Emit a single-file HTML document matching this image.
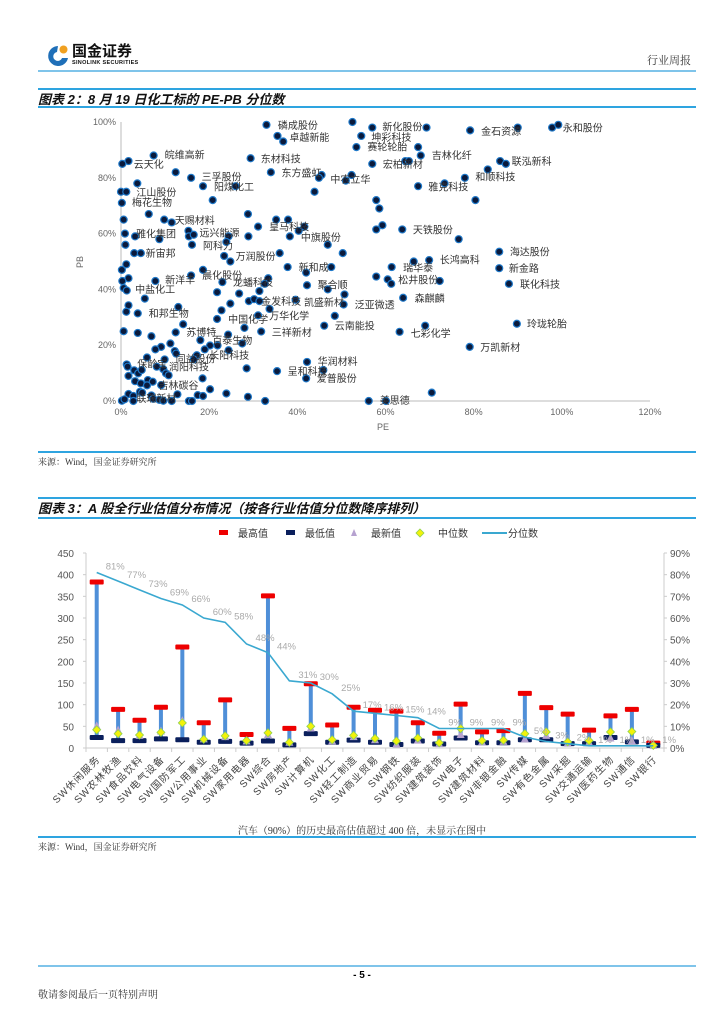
<!DOCTYPE html>
<html><head><meta charset="utf-8">
<style>
body{margin:0;background:#fff;font-family:"Liberation Sans","Noto Sans CJK SC",sans-serif;}
#page{position:relative;width:724px;height:1024px;overflow:hidden;background:#fff;}
.abs{position:absolute;white-space:nowrap;}
.hl{position:absolute;left:38px;width:658px;height:2px;background:#2ea4e0;}
.ttl{font-weight:bold;font-style:italic;font-size:13px;color:#111;}
.src{font-size:9px;color:#333;font-family:"Liberation Serif","Noto Serif CJK SC",serif;}
svg text{font-family:"Liberation Sans","Noto Sans CJK SC",sans-serif;}
</style></head>
<body><div id="page">

<div>
<svg class="abs" style="left:47px;top:44px" width="22" height="25">
<path d="M11 2 A10 10 0 1 0 21 14 L15 14 A4.5 4.5 0 1 1 10 8 Z" fill="#1f6fb8"/>
<circle cx="16.5" cy="5.5" r="4" fill="#f0a020"/></svg>
<div class="abs" style="left:72px;top:44px;font-size:15px;line-height:15px;font-weight:bold;color:#111">国金证券</div>
<div class="abs" style="left:72px;top:60px;font-size:5.5px;line-height:6px;font-weight:bold;color:#111;letter-spacing:0.3px">SINOLINK SECURITIES</div>
</div>
<div class="abs src" style="left:647px;top:52px;font-size:11px;color:#333">行业周报</div>
<div class="hl" style="top:70px;height:2px;background:#7fc4ea"></div>

<div class="hl" style="top:88px"></div>
<div class="abs ttl" style="left:38px;top:89px">图表 2：8 月 19 日化工标的 PE-PB 分位数</div>
<div class="hl" style="top:106px"></div>

<svg id="sc" class="abs" style="left:0;top:108px" width="724" height="330"></svg>

<div class="hl" style="top:451px"></div>
<div class="abs src" style="left:38px;top:455px">来源：Wind，国金证券研究所</div>

<div class="hl" style="top:497px"></div>
<div class="abs ttl" style="left:38px;top:498px">图表 3：A 股全行业估值分布情况（按各行业估值分位数降序排列）</div>
<div class="hl" style="top:517px"></div>

<svg id="bc" class="abs" style="left:0;top:520px" width="724" height="300"></svg>

<div class="abs src" style="left:0;width:724px;text-align:center;top:822px;font-size:10px">汽车（90%）的历史最高估值超过 400 倍，未显示在图中</div>
<div class="hl" style="top:836px"></div>
<div class="abs src" style="left:38px;top:840px">来源：Wind，国金证券研究所</div>

<div class="hl" style="top:965px;height:2px;background:#7fc4ea"></div>
<div class="abs" style="left:0;width:724px;text-align:center;top:970px;font-size:10px;font-weight:bold">- 5 -</div>
<div class="abs src" style="left:38px;top:986px;font-size:10px">敬请参阅最后一页特别声明</div>

<script>
// ---- scatter data (PE percentile, PB percentile) ----
const pe=[33,52.5,57,69.3,79.2,90,97.8,99.2,35.5,36.8,54.5,53.4,67.4,68,7.4,29.4,1.7,0.3,57,64.5,65.3,86,87.3,83.2,78,12.4,34,45.5,52.3,44.9,51,15.9,3.7,18.6,26,67.4,73.4,0,1.2,43.9,0.2,20.8,57.9,58.6,80.4,6.3,28.8,0.6,9.8,11.5,35.2,37.9,41.6,31.1,40.3,57.9,59.3,63.8,76.6,0.9,3.2,8.7,15.3,15.4,16.5,24.4,28.9,38.3,1,16.1,23.9,46.9,36,50.3,3,4.5,23.4,24.8,85.8,66.4,69.9,1.2,0.2,18.6,37.8,42,47.7,61.4,85.8,1.7,7.8,15.9,23,33.4,32.6,57.9,60.5,61.3,42.2,46.9,72.3,88,0.3,0.6,1.3,21.8,26.8,31.4,50.7,5.4,29,30.2,31.4,39.6,50.5,64,1.7,1.2,13,24.8,22.8,33.7,3.8,21.8,31.1,48.5,89.8,69,14.1,0.6,3.8,12.4,6.9,24.3,28,31.8,46.1,63.2,79.1,18,11.2,9.1,7.8,20.2,21.9,27.5,19,12.2,12.5,24.4,17.2,16.5,9.9,5.9,1.3,1.5,3,3.9,4.7,8.1,9.6,10.2,10.8,1.7,3.2,6.1,7.2,4.5,5.9,9.1,18.5,28.5,35.4,42.2,45.9,42,20.2,23.9,12.8,1.7,2.8,4.3,4.8,6.9,7.3,17.4,18.6,28.8,8.7,9.6,11.5,15.4,16.1,32.7,0.2,0.8,2.8,56.2,60.1,70.5];
const pb=[99,100,98,98,97,98,98,99,95,93,95,91,91,88,88,87,86,85,85,86,86,86,85,83,80,82,82,81,81,80,79,80,78,77,77,77,78,75,75,75,71,72,72,69,72,67,67,65,65,64,65,65,62.5,62.5,61,61.5,63,61.5,58,60,59,58,61,59,59.6,59,59,59,56,56,57,56,53,53,53,53,52,50,53.5,50,50.5,49,47,47,48,46,48,48,47.6,44,43,45,42.6,44,42,44.6,43.6,42,41.5,40,43,42,43,40.5,39.6,39,38.5,39.4,38.2,36.7,35.8,36.5,35.8,36.3,34.6,37,34.3,32,33.7,34.9,32.5,33,31.4,29.4,30.7,30.5,27.7,27,27.5,25,24.4,24.6,23.2,23.8,26.2,24.9,27,24.8,19.4,21.8,20.6,19.4,18.5,19.9,19.9,20.6,18.5,17.9,17,18.2,16.4,14.9,14.9,15.6,13.1,12.3,11,9.9,11.1,12.3,11.4,9.9,9.2,9,7.1,7.5,6.9,6.3,5.6,5.7,8.1,11.7,10.7,14,11.1,8.1,4.2,2.7,2.4,2.5,1.8,3.3,3,2,0.8,2.1,1.8,1.5,0.4,0.1,0,0,0,0,0.1,0.6,0,0,0,3];
const lblText=["磷成股份","卓越新能","新化股份","坤彩科技","赛轮轮胎","金石资源","永和股份","吉林化纤","皖维高新","东材科技","云天化","宏柏新材","联泓新科","东方盛虹","中农立华","和顺科技","三孚股份","阳煤化工","雅克科技","江山股份","梅花生物","天赐材料","皇马科技","雅化集团","远兴能源","中旗股份","天铁股份","阿科力","新宙邦","万润股份","海达股份","长鸿高科","瑞华泰","新和成","新金路","新洋丰","晨化股份","龙蟠科技","松井股份","聚合顺","联化科技","中盐化工","金发科技","凯盛新材","泛亚微透","森麒麟","和邦生物","中国化学","万华化学","云南能投","玲珑轮胎","苏博特","三祥新材","七彩化学","百泰生物","万凯新材","长阳科技","同益股份","保龄宝","润阳科技","华润材料","呈和科技","爱普股份","吉林碳谷","联瑞新材","美思德"];
const lblPe=[35.6,38.2,59.3,56.8,55.9,81.7,100.2,70.5,9.9,31.7,2.9,59.4,88.6,36.4,47.5,80.4,18.3,21.1,69.7,3.5,2.5,12.2,33.6,3.4,17.8,40.8,66.2,18.6,5.6,26,88.2,72.3,64,40.3,88,10,18.4,25.4,62.9,44.6,90.5,3.2,31.8,41.5,53,66.6,6.3,24.3,33.6,48.5,92.1,14.8,34.2,65.7,20.7,81.5,20,12.4,3.7,10.9,44.6,37.8,44.4,8.5,3.5,58.7];
const lblPb=[99,94.6,98.3,94.6,91.3,96.7,98,88.2,88.3,86.9,84.9,84.9,86,81.9,79.5,80.5,80.4,76.8,76.8,75,71.4,64.9,62.6,60.1,60.4,58.7,61.5,55.7,53,51.9,53.6,50.7,47.9,48,47.7,43.6,45.2,42.6,43.6,41.8,42,40.2,35.8,35.5,34.6,37,31.5,29.4,30.7,27,27.7,24.8,24.8,24.4,21.8,19.3,16.4,15.2,13.5,12.3,14.3,10.8,8.3,5.7,1,0.4];
const xTicks=[0,20,40,60,80,100,120];
const yTicks=[0,20,40,60,80,100];

// ---- bar chart data ----
const cats=["SW休闲服务","SW农林牧渔","SW食品饮料","SW电气设备","SW国防军工","SW公用事业","SW机械设备","SW家用电器","SW综合","SW房地产","SW计算机","SW化工","SW轻工制造","SW商业贸易","SW钢铁","SW纺织服装","SW建筑装饰","SW电子","SW建筑材料","SW非银金融","SW传媒","SW有色金属","SW采掘","SW交通运输","SW医药生物","SW通信","SW银行"];
const maxV=[382,88,63,93,232,57,110,30,350,44,147,52,93,86,84,57,33,100,36,39,125,92,77,40,73,88,10];
const minV=[23,16,16,20,18,12,14,10,15,6,32,12,17,12,7,15,8,22,11,11,18,18,9,9,23,13,5];
const latestV=[50,40,28,38,62,20,25,15,30,12,45,15,25,18,8,17,9,30,13,14,20,28,10,12,22,16,5];
const medianV=[42,33,30,36,58,20,28,17,35,13,50,19,29,22,16,23,12,45,17,18,33,37,14,17,37,38,6];
const pctV=[81,77,73,69,66,60,58,48,44,31,30,25,17,16,15,14,9,9,9,9,5,3,2,1,1,1,1];
const leftTicks=[0,50,100,150,200,250,300,350,400,450];
const rightTicks=[0,10,20,30,40,50,60,70,80,90];

const NS="http://www.w3.org/2000/svg";
function mk(p,t,a){const e=document.createElementNS(NS,t);for(const k in a)e.setAttribute(k,a[k]);p.appendChild(e);return e;}

// scatter
(function(){
const s=document.getElementById('sc');const T=108;
const X=v=>121+v*(650-121)/120, Y=v=>401-T-v*(401-122)/100;
let e=mk(s,'line',{x1:X(0),y1:Y(0),x2:X(120),y2:Y(0),stroke:'#bbb','stroke-width':1});

e=mk(s,'line',{x1:X(0),y1:Y(0),x2:X(0),y2:Y(100),stroke:'#bbb','stroke-width':1});

xTicks.forEach(v=>{const t=mk(s,'text',{x:X(v),y:Y(0)+14,'text-anchor':'middle','font-size':9,fill:'#666'});t.textContent=v+'%';
});
yTicks.forEach(v=>{const t=mk(s,'text',{x:X(0)-5,y:Y(v)+3,'text-anchor':'end','font-size':9,fill:'#666'});t.textContent=v+'%';
});
let t=mk(s,'text',{x:383,y:322,'text-anchor':'middle','font-size':9,fill:'#666'});t.textContent='PE';

t=mk(s,'text',{x:0,y:0,'text-anchor':'middle','font-size':9,fill:'#666',transform:'translate(83,'+(262-T)+') rotate(-90)'});t.textContent='PB';

pe.forEach((v,i)=>{const c=mk(s,'circle',{cx:X(v),cy:Y(pb[i]),r:3.5,fill:'#0a1a3c',stroke:'#1f78c8','stroke-width':1.2});
});
lblText.forEach((n,i)=>{const l=mk(s,'text',{x:X(lblPe[i]),y:Y(lblPb[i])+4,'font-size':10,fill:'#333'});l.textContent=n;
});
})();

// bar chart
(function(){
const s=document.getElementById('bc');const T=520;
const x0=86,x1=664,n=cats.length,step=(x1-x0)/n;
const CX=i=>x0+step*(i+0.5);
const Y=v=>748-T-v*(748-553)/450, YR=v=>748-T-v*(748-553)/90;
let e=mk(s,'line',{x1:x0,y1:Y(0),x2:x1,y2:Y(0),stroke:'#ccc'});

e=mk(s,'line',{x1:x0,y1:Y(0),x2:x0,y2:Y(450),stroke:'#ccc'});

e=mk(s,'line',{x1:x1,y1:Y(0),x2:x1,y2:Y(450),stroke:'#ccc'});

leftTicks.forEach(v=>{const t=mk(s,'text',{x:74,y:Y(v)+4,'text-anchor':'end','font-size':10,fill:'#555'});t.textContent=v;

mk(s,'line',{x1:x0-3,y1:Y(v),x2:x0,y2:Y(v),stroke:'#ccc'});});
rightTicks.forEach(v=>{const t=mk(s,'text',{x:670,y:YR(v)+4,'font-size':10,fill:'#555'});t.textContent=v+'%';

mk(s,'line',{x1:x1,y1:YR(v),x2:x1+3,y2:YR(v),stroke:'#ccc'});});
for(let i=0;i<=n;i++)mk(s,'line',{x1:x0+step*i,y1:Y(0),x2:x0+step*i,y2:Y(0)+4,stroke:'#ccc'});
cats.forEach((c,i)=>{
 const cx=CX(i);
 let b=mk(s,'rect',{x:cx-2,y:Y(maxV[i]),width:4,height:Y(minV[i])-Y(maxV[i]),fill:'#4f8fd8'});
 
 b=mk(s,'rect',{x:cx-7,y:Y(maxV[i])-3,width:14,height:5,rx:1,fill:'#ee0000'});
 
 b=mk(s,'rect',{x:cx-7,y:Y(minV[i])-3,width:14,height:5,rx:1,fill:'#0a1f5c'});
 
 const ly=Y(latestV[i]);
 b=mk(s,'polygon',{points:(cx-4)+','+(ly+3)+' '+(cx+4)+','+(ly+3)+' '+cx+','+(ly-5),fill:'#b6a2d0'});
 
 const my=Y(medianV[i]);
 b=mk(s,'polygon',{points:cx+','+(my-4)+' '+(cx+4)+','+my+' '+cx+','+(my+4)+' '+(cx-4)+','+my,fill:'#f2f20a',stroke:'#8fd14f','stroke-width':0.8});
 
 const t=mk(s,'text',{x:0,y:0,'text-anchor':'end','font-size':10,fill:'#444','letter-spacing':'1',transform:'translate('+(cx+4)+','+(Y(0)+12)+') rotate(-45)'});
 t.textContent=c;
});
const pts=pctV.map((v,i)=>CX(i)+','+YR(v)).join(' ');
let pl=mk(s,'polyline',{points:pts,fill:'none',stroke:'#3aa8d0','stroke-width':1.6});

pctV.forEach((v,i)=>{const t=mk(s,'text',{x:CX(i)+9,y:YR(v)-3,'font-size':9.5,fill:'#aaa'});t.textContent=v+'%';
});
// legend
const lg=mk(s,'g',{});
const ly=13;
mk(lg,'rect',{x:219,y:ly-3,width:9,height:5,fill:'#ee0000'});
let tx=mk(lg,'text',{x:238,y:ly+4,'font-size':10,fill:'#333'});tx.textContent='最高值';

mk(lg,'rect',{x:286,y:ly-3,width:9,height:5,fill:'#0a1f5c'});
tx=mk(lg,'text',{x:305,y:ly+4,'font-size':10,fill:'#333'});tx.textContent='最低值';

mk(lg,'polygon',{points:'351,'+(ly+3)+' 357,'+(ly+3)+' 354,'+(ly-4),fill:'#b6a2d0'});
tx=mk(lg,'text',{x:371,y:ly+4,'font-size':10,fill:'#333'});tx.textContent='最新值';

mk(lg,'polygon',{points:'420,'+(ly-4)+' 424,'+ly+' 420,'+(ly+4)+' 416,'+ly,fill:'#f2f20a',stroke:'#8fd14f','stroke-width':0.8});
tx=mk(lg,'text',{x:438,y:ly+4,'font-size':10,fill:'#333'});tx.textContent='中位数';

mk(lg,'line',{x1:482,y1:ly,x2:507,y2:ly,stroke:'#3aa8d0','stroke-width':2});
tx=mk(lg,'text',{x:508,y:ly+4,'font-size':10,fill:'#333'});tx.textContent='分位数';

})();
</script>
</div></body></html>
